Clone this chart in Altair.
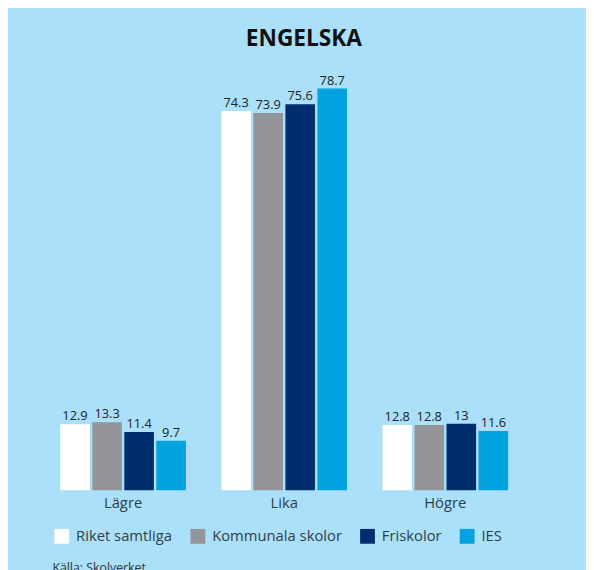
import altair as alt
import pandas as pd

categories = ["Lägre", "Lika", "Högre"]
series = ["Riket samtliga", "Kommunala skolor", "Friskolor", "IES"]
riket = [12.9, 74.3, 12.8]
kommunala = [13.3, 73.9, 12.8]
friskolor = [11.4, 75.6, 13]
ies = [9.7, 78.7, 11.6]
colors = ["#ffffff", "#939598", "#002d6e", "#00a3e0"]
source_text = "Källa: Skolverket"

rows = []
for s, vals in zip(series, [riket, kommunala, friskolor, ies]):
    for c, v in zip(categories, vals):
        rows.append({"kategori": c, "serie": s, "varde": v})
df = pd.DataFrame(rows)

FONT = "Open Sans"
BG = "#aae0fa"

base = alt.Chart(df).encode(
    x=alt.X("kategori:N", sort=categories, title=None,
            scale=alt.Scale(paddingInner=0.22, paddingOuter=0.11),
            axis=alt.Axis(labelAngle=0, ticks=False, domain=False, labelFontSize=15,
                          labelFont=FONT, labelColor="#333d47", labelPadding=6)),
    xOffset=alt.XOffset("serie:N", sort=series,
                        scale=alt.Scale(paddingInner=0.077, paddingOuter=0)),
    y=alt.Y("varde:Q", scale=alt.Scale(domain=[0, 80], nice=False), axis=None),
)

bars = base.mark_bar().encode(
    color=alt.Color("serie:N", sort=series, title=None,
                    scale=alt.Scale(domain=series, range=colors),
                    legend=alt.Legend(orient="none", legendX=12, legendY=453,
                                      direction="horizontal", symbolType="square",
                                      symbolSize=225, symbolStrokeWidth=0,
                                      labelFontSize=15, labelFont=FONT,
                                      labelColor="#333d47", labelOffset=7,
                                      columnPadding=18, padding=0))
)

labels = base.mark_text(baseline="alphabetic", dy=-4, fontSize=13, font=FONT,
                        color="#222222").encode(
    text=alt.Text("varde:Q", format=".1~f")
)

source = alt.Chart(pd.DataFrame({"t": [source_text]})).mark_text(
    align="left", baseline="top", fontSize=12.5, font=FONT, color="#333333"
).encode(x=alt.value(10), y=alt.value(487), text="t:N")

chart = alt.layer(bars, labels, source).properties(
    width=490, height=414,
    title=alt.TitleParams("ENGELSKA", fontSize=23, font=FONT, fontWeight="bold",
                          color="#111111", anchor="middle", frame="group",
                          dx=20, baseline="alphabetic", offset=6),
    background=BG,
    autosize=alt.AutoSizeParams(type="none"),
    padding={"left": 35, "top": 71, "right": 61, "bottom": 77},
).configure_view(strokeWidth=0)

chart.save("out.html", embed_options={"renderer": "svg", "actions": False})
